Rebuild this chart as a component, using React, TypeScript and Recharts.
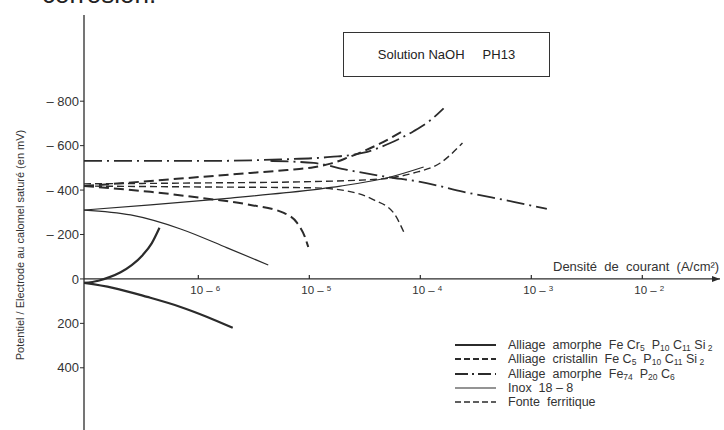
import React from "react";
import { LineChart, Line, XAxis, YAxis, ReferenceLine, ReferenceDot } from "recharts";

// x = log10 of current density (A/cm²), v = potential vs SCE (mV)
const feCrAmorpheUp = [[-7.03, 18], [-6.9, 8], [-6.8, -8], [-6.7, -30], [-6.6, -62], [-6.5, -108], [-6.42, -160], [-6.35, -230]];
const feCrAmorpheDown = [[-7.03, 18], [-6.77, 40], [-6.46, 81], [-6.16, 126], [-5.92, 171], [-5.69, 220]];

const feCrCristUp = [[-7.03, -418], [-6.43, -441], [-5.98, -459], [-5.53, -477], [-5.2, -490], [-4.96, -503], [-4.8, -520], [-4.66, -545], [-4.36, -610], [-4.14, -670]];
const feCrCristDown = [[-7.03, -418], [-6.43, -392], [-5.98, -365], [-5.53, -333], [-5.23, -297], [-5.11, -252], [-5.04, -189], [-5.01, -144]];

const fe74Up = [[-7.03, -531], [-5.98, -531], [-5.26, -538], [-4.81, -549], [-4.51, -568], [-4.27, -612], [-4.06, -665], [-3.91, -714], [-3.79, -768]];
const fe74Down = [[-5.35, -531], [-4.96, -522], [-4.66, -491], [-4.3, -459], [-4.0, -437], [-3.61, -392], [-3.16, -347], [-2.86, -315]];

const inoxUp = [[-7.03, -310], [-6.43, -333], [-5.71, -364], [-5.23, -387], [-4.72, -418], [-4.27, -459], [-3.97, -504]];
const inoxDown = [[-7.03, -310], [-6.61, -288], [-6.16, -225], [-5.74, -140], [-5.37, -63]];

const fonteUp = [[-7.03, -428], [-5.98, -432], [-5.08, -437], [-4.36, -450], [-4.06, -477], [-3.82, -522], [-3.62, -612]];
const fonteDown = [[-7.03, -418], [-5.98, -414], [-4.96, -410], [-4.66, -396], [-4.42, -356], [-4.24, -297], [-4.15, -212]];

const yTicks = [-800, -600, -400, -200, 0, 200, 400];
const decades = [-6, -5, -4, -3, -2];

const FONT = '"Liberation Sans", Arial, sans-serif';
const INK = "#2b2b2b";

const pts = (a: number[][]) => a.map(([x, v]) => ({ x, v }));

const subStyle: React.CSSProperties = { fontSize: 8.5, verticalAlign: "-2px", lineHeight: 0 };
const Sub = ({ children }: { children: React.ReactNode }) => <span style={subStyle}>{children}</span>;

const series = [
  {
    key: "feCrA", branches: [feCrAmorpheUp, feCrAmorpheDown], width: 2.2, dash: undefined as string | undefined, legendDash: undefined as string | undefined,
    label: <>Alliage&nbsp; amorphe&nbsp; Fe Cr<Sub>5</Sub>&nbsp; P<Sub>10</Sub> C<Sub>11</Sub> Si<Sub> 2</Sub></>,
  },
  {
    key: "feCrC", branches: [feCrCristUp, feCrCristDown], width: 2, dash: "10 5", legendDash: "6 3",
    label: <>Alliage&nbsp; cristallin&nbsp; Fe C<Sub>5</Sub>&nbsp; P<Sub>10</Sub> C<Sub>11</Sub> Si<Sub> 2</Sub></>,
  },
  {
    key: "fe74", branches: [fe74Up, fe74Down], width: 1.8, dash: "18 5 2 5", legendDash: "13 4 2 4",
    label: <>Alliage&nbsp; amorphe&nbsp; Fe<Sub>74</Sub>&nbsp; P<Sub>20</Sub> C<Sub>6</Sub></>,
  },
  {
    key: "inox", branches: [inoxUp, inoxDown], width: 1.2, dash: undefined, legendDash: undefined,
    label: <>Inox&nbsp; 18 – 8</>,
  },
  {
    key: "fonte", branches: [fonteUp, fonteDown], width: 1.4, dash: "7 4", legendDash: "6 3",
    label: <>Fonte&nbsp; ferritique</>,
  },
];

const fmtY = (v: number) => (v < 0 ? `–\u00A0${-v}` : String(v));

const DecadeTick = (props: any) => {
  const { cx, cy, exp } = props;
  return (
    <g>
      <line x1={cx} y1={cy} x2={cx} y2={cy - 4} stroke={INK} strokeWidth={1.2} />
      <text x={cx - 8} y={cy + 15} fontFamily={FONT} fontSize={11.5} fill="#333">
        10 –<tspan fontSize={8} dx={3} dy={-3}>{-exp}</tspan>
      </text>
    </g>
  );
};

const Arrow = (props: any) => {
  const { cx, cy } = props;
  return <polygon points={`${cx},${cy} ${cx - 8},${cy - 3} ${cx - 8},${cy + 3}`} fill={INK} />;
};

export default function App() {
  return (
    <div style={{ position: "absolute", left: 0, top: 0, width: 724, height: 430, background: "#fff", fontFamily: FONT, overflow: "hidden" }}>
      <div style={{ position: "absolute", left: 42, top: -19, fontSize: 26, color: "#222", lineHeight: "26px" }}>corrosion.</div>

      <LineChart width={724} height={430} margin={{ top: 15, right: 4, bottom: 0, left: 0 }}>
        <XAxis type="number" dataKey="x" domain={[-7.03, -1.3]} hide allowDataOverflow />
        <YAxis
          type="number"
          dataKey="v"
          domain={[-1188, 680]}
          reversed
          allowDataOverflow
          ticks={yTicks}
          tickFormatter={fmtY}
          width={84}
          tickSize={4}
          tickMargin={1}
          axisLine={{ stroke: INK, strokeWidth: 1.3 }}
          tickLine={{ stroke: INK }}
          tick={{ fontSize: 13, fill: "#333", fontFamily: FONT }}
        />
        <ReferenceLine y={0} stroke={INK} strokeWidth={1.3} />
        {decades.map((d) => (
          <ReferenceDot key={d} x={d} y={0} shape={(p: any) => <DecadeTick {...p} exp={d} />} />
        ))}
        <ReferenceDot x={-1.3} y={0} shape={(p: any) => <Arrow {...p} />} />
        {series.flatMap((s) =>
          s.branches.map((b, i) => (
            <Line
              key={`${s.key}-${i}`}
              data={pts(b)}
              dataKey="v"
              type="monotone"
              stroke={INK}
              strokeWidth={s.width}
              strokeDasharray={s.dash}
              dot={false}
              activeDot={false}
              isAnimationActive={false}
            />
          ))
        )}
      </LineChart>

      <div style={{ position: "absolute", left: 343, top: 32, width: 205, height: 43, border: "1.3px solid #333", display: "flex", alignItems: "center", justifyContent: "center", fontSize: 13, color: "#222" }}>
        Solution NaOH&nbsp;&nbsp;&nbsp;&nbsp; PH13
      </div>

      <div style={{ position: "absolute", left: 553, top: 259, fontSize: 13, color: "#333", whiteSpace: "nowrap" }}>
        Densité&nbsp; de&nbsp; courant&nbsp; (A/cm²)
      </div>

      <div style={{ position: "absolute", left: 20 - 150, top: 245 - 7, width: 300, textAlign: "center", fontSize: 11, color: "#333", transform: "rotate(-90deg)", whiteSpace: "nowrap", lineHeight: "14px" }}>
        Potentiel / Electrode au calomel saturé (en mV)
      </div>

      <div style={{ position: "absolute", left: 455, top: 338 }}>
        {series.map((s) => (
          <div key={s.key} style={{ display: "flex", alignItems: "center", height: 14.3, whiteSpace: "nowrap" }}>
            <svg width={42} height={8} style={{ flex: "none" }}>
              <line x1={0} y1={4} x2={41} y2={4} stroke={INK} strokeWidth={Math.min(s.width, 1.8)} strokeDasharray={s.legendDash} />
            </svg>
            <span style={{ marginLeft: 11, fontSize: 12.5, color: "#333", lineHeight: "14px" }}>{s.label}</span>
          </div>
        ))}
      </div>
    </div>
  );
}
